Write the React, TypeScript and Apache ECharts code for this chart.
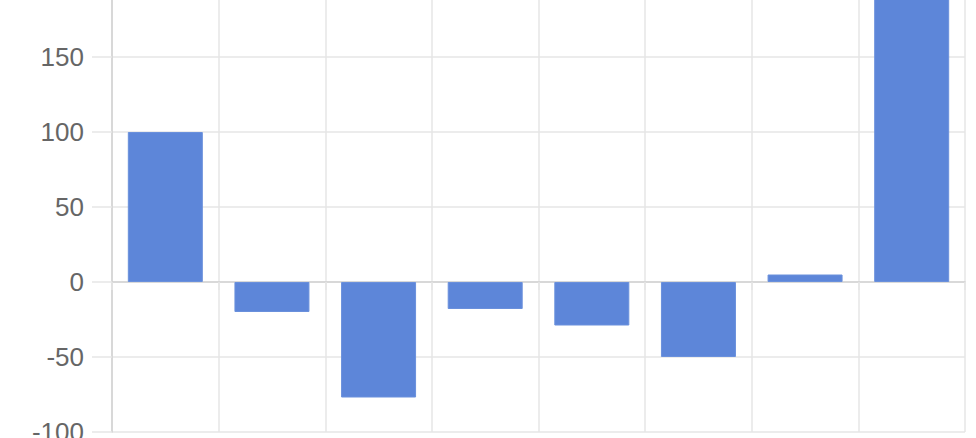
import React, { useEffect, useRef } from "react";
import * as echarts from "echarts";

const categories = ["A", "B", "C", "D", "E", "F", "G", "H"];
const values = [100, -20, -77, -18, -29, -50, 5, 200];
const yTicks = { min: -100, max: 200, step: 50 };

const App: React.FC = () => {
  const chartRef = useRef<HTMLDivElement>(null);

  useEffect(() => {
    if (!chartRef.current) return;
    const chart = echarts.init(chartRef.current, undefined, { renderer: "svg" });

    const gridColor = "#e6e6e6";
    const axisColor = "#d2d2d2";

    chart.setOption({
      animation: false,
      grid: {
        left: 112,
        right: 11,
        top: -18,
        bottom: 6,
        containLabel: false,
        outerBoundsMode: "none",
      },
      xAxis: {
        type: "category",
        data: categories,
        boundaryGap: true,
        axisLine: { show: true, lineStyle: { color: axisColor, width: 1.5 } },
        axisTick: {
          show: true,
          alignWithLabel: false,
          length: 8,
          lineStyle: { color: gridColor, width: 1.5 },
        },
        axisLabel: { show: false },
        splitLine: { show: true, lineStyle: { color: gridColor, width: 1.5 } },
      },
      yAxis: {
        type: "value",
        min: yTicks.min,
        max: yTicks.max,
        interval: yTicks.step,
        axisLine: { show: true, lineStyle: { color: axisColor, width: 1.5 } },
        axisTick: {
          show: true,
          length: 20,
          lineStyle: { color: gridColor, width: 1.5 },
        },
        axisLabel: {
          margin: 28,
          color: "#666666",
          fontSize: 26,
          fontFamily: "Liberation Sans, Arial, sans-serif",
        },
        splitLine: { show: true, lineStyle: { color: gridColor, width: 1.5 } },
      },
      series: [
        {
          type: "bar",
          data: values,
          barWidth: 75,
          itemStyle: {
            color: "#5d86d9",
            borderColor: "#6a90dc",
            borderWidth: 1,
          },
        },
      ],
    });

    return () => {
      chart.dispose();
    };
  }, []);

  return (
    <div
      ref={chartRef}
      style={{
        position: "absolute",
        left: 0,
        top: 0,
        width: "976px",
        height: "438px",
        background: "#ffffff",
      }}
    />
  );
};

export default App;
